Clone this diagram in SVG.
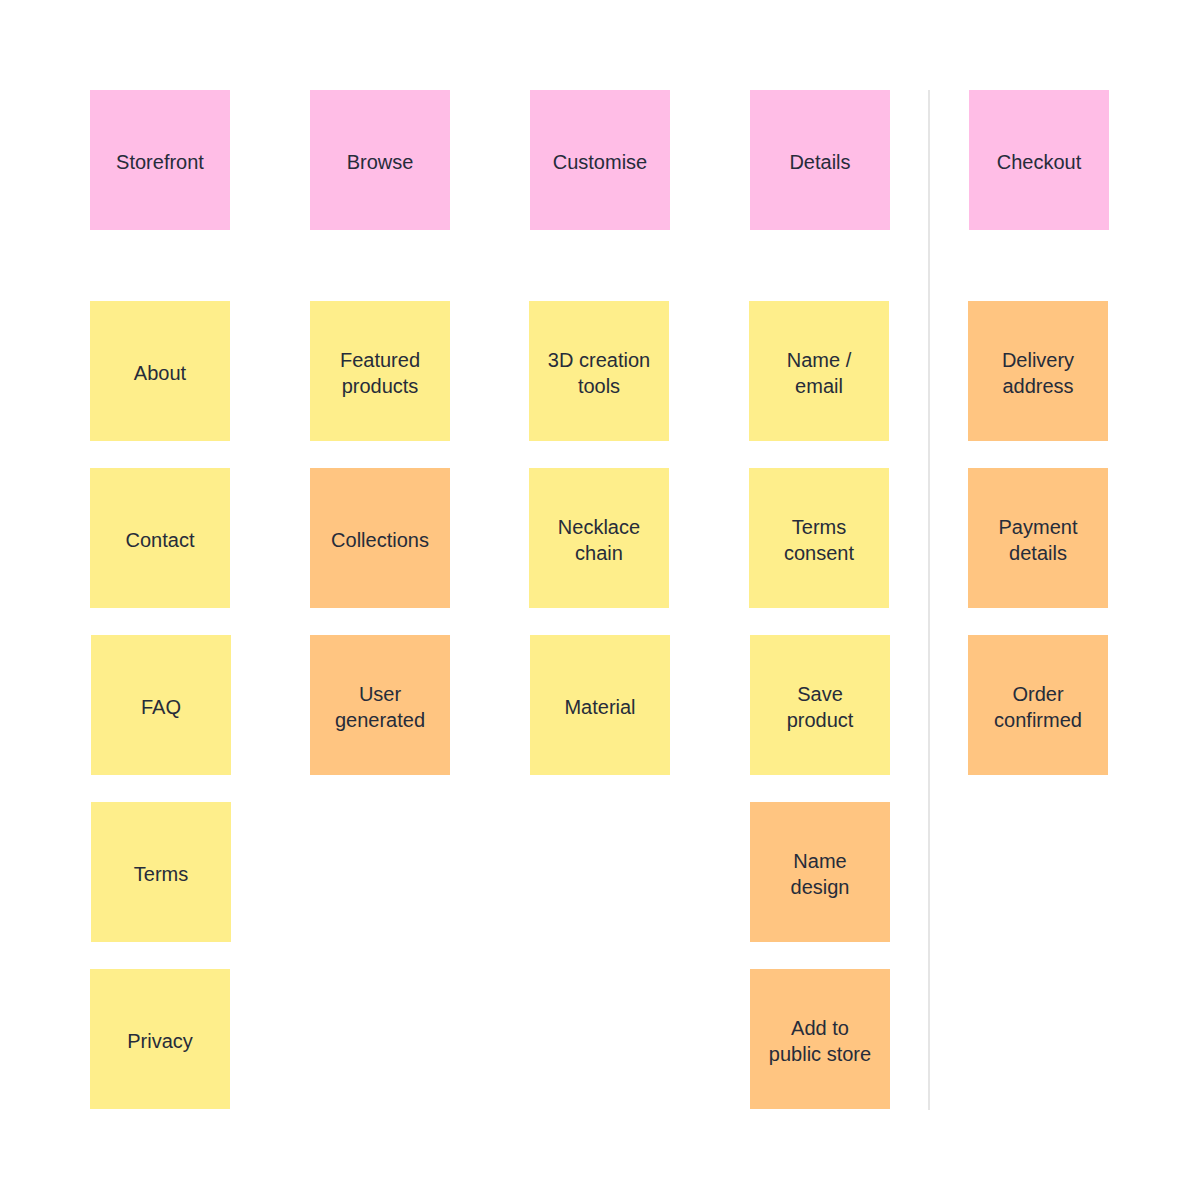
<svg xmlns="http://www.w3.org/2000/svg" width="1200" height="1200" viewBox="0 0 1200 1200">
<style>
.p{fill:#FFBDE6}.y{fill:#FEEE8B}.o{fill:#FFC581}
text{font-family:"Liberation Sans",Arial,sans-serif;font-size:20px;font-weight:500;fill:#262C3A;text-anchor:middle}
</style>
<rect width="1200" height="1200" fill="#fff"/>
<g id="connectors"><line x1="929" y1="90" x2="929" y2="1110" stroke="#DDDDDD" stroke-width="1.5"/></g>
<g id="storefront"><rect class="p" x="90" y="90" width="140" height="140"/><text x="160" y="169">Storefront</text></g>
<g id="browse"><rect class="p" x="310" y="90" width="140" height="140"/><text x="380" y="169">Browse</text></g>
<g id="customise"><rect class="p" x="530" y="90" width="140" height="140"/><text x="600" y="169">Customise</text></g>
<g id="details"><rect class="p" x="750" y="90" width="140" height="140"/><text x="820" y="169">Details</text></g>
<g id="checkout"><rect class="p" x="969" y="90" width="140" height="140"/><text x="1039" y="169">Checkout</text></g>

<g id="about"><rect class="y" x="90" y="301" width="140" height="140"/><text x="160" y="380">About</text></g>
<g id="contact"><rect class="y" x="90" y="468" width="140" height="140"/><text x="160" y="547">Contact</text></g>
<g id="faq"><rect class="y" x="91" y="635" width="140" height="140"/><text x="161" y="714">FAQ</text></g>
<g id="terms"><rect class="y" x="91" y="802" width="140" height="140"/><text x="161" y="881">Terms</text></g>
<g id="privacy"><rect class="y" x="90" y="969" width="140" height="140"/><text x="160" y="1048">Privacy</text></g>

<g id="featured"><rect class="y" x="310" y="301" width="140" height="140"/><text x="380" y="367">Featured</text><text x="380" y="393">products</text></g>
<g id="collections"><rect class="o" x="310" y="468" width="140" height="140"/><text x="380" y="547">Collections</text></g>
<g id="usergen"><rect class="o" x="310" y="635" width="140" height="140"/><text x="380" y="701">User</text><text x="380" y="727">generated</text></g>

<g id="tools3d"><rect class="y" x="529" y="301" width="140" height="140"/><text x="599" y="367">3D creation</text><text x="599" y="393">tools</text></g>
<g id="necklace"><rect class="y" x="529" y="468" width="140" height="140"/><text x="599" y="534">Necklace</text><text x="599" y="560">chain</text></g>
<g id="material"><rect class="y" x="530" y="635" width="140" height="140"/><text x="600" y="714">Material</text></g>

<g id="nameemail"><rect class="y" x="749" y="301" width="140" height="140"/><text x="819" y="367">Name /</text><text x="819" y="393">email</text></g>
<g id="termsconsent"><rect class="y" x="749" y="468" width="140" height="140"/><text x="819" y="534">Terms</text><text x="819" y="560">consent</text></g>
<g id="saveproduct"><rect class="y" x="750" y="635" width="140" height="140"/><text x="820" y="701">Save</text><text x="820" y="727">product</text></g>
<g id="namedesign"><rect class="o" x="750" y="802" width="140" height="140"/><text x="820" y="868">Name</text><text x="820" y="894">design</text></g>
<g id="addpublic"><rect class="o" x="750" y="969" width="140" height="140"/><text x="820" y="1035">Add to</text><text x="820" y="1061">public store</text></g>

<g id="delivery"><rect class="o" x="968" y="301" width="140" height="140"/><text x="1038" y="367">Delivery</text><text x="1038" y="393">address</text></g>
<g id="payment"><rect class="o" x="968" y="468" width="140" height="140"/><text x="1038" y="534">Payment</text><text x="1038" y="560">details</text></g>
<g id="order"><rect class="o" x="968" y="635" width="140" height="140"/><text x="1038" y="701">Order</text><text x="1038" y="727">confirmed</text></g>
</svg>
